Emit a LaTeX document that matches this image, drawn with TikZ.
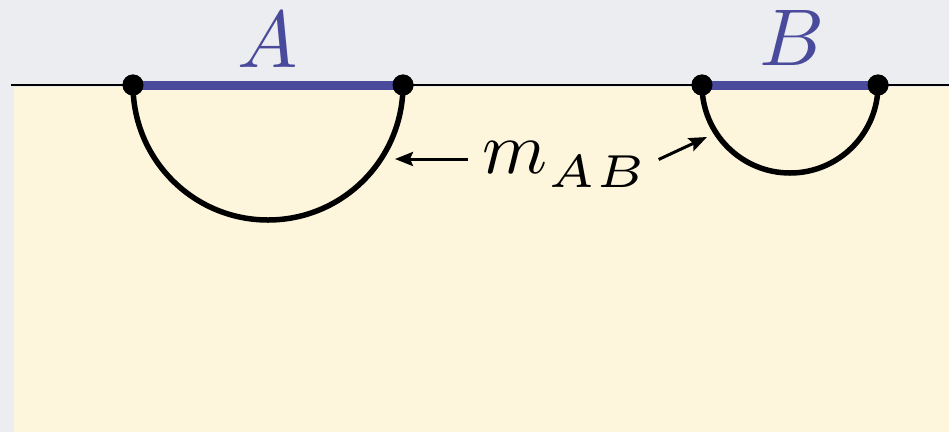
\documentclass[tikz,border=0pt]{standalone}
\usepackage{amsmath,amssymb}
\usepackage{graphicx}
\usepackage{tikz}
\usetikzlibrary{positioning,arrows.meta}
\usepackage{xcolor}
\definecolor{bandgray}{HTML}{ECEDF0}
\definecolor{sandfill}{HTML}{FDF6DC}
\definecolor{segblue}{HTML}{4A4A9C}

\begin{document}
\begin{tikzpicture}[x=1pt,y=-1pt,>={Stealth[length=18pt,width=14pt,inset=3pt]},
  dot/.style={circle,fill=black,inner sep=0pt,minimum size=21pt},
  seg/.style={segblue,line width=9pt},
  cup/.style={line width=5.5pt},
  pointer/.style={->,line width=3pt},
  letter/.style={text=segblue,inner sep=0pt,scale=8.05,transform shape}]
\useasboundingbox (0,0) rectangle (949,432);
\fill[bandgray] (0,0) rectangle (949,432);
\fill[sandfill] (14,87) rectangle (949,432);
\draw[line width=2.5pt] (11,85) -- (949,85);
% the two intervals
\node[dot] (a1) at (133,85) {};
\node[dot] (a2) at (403,85) {};
\node[dot] (b1) at (702,85) {};
\node[dot] (b2) at (878,85) {};
\draw[seg] (a1.center) -- (a2.center);
\draw[seg] (b1.center) -- (b2.center);
\draw[cup] (a1.center) arc[start angle=180,end angle=360,radius=135pt];
\draw[cup] (b1.center) arc[start angle=180,end angle=360,radius=88pt];
\node[dot] at (a1) {};
\node[dot] at (a2) {};
\node[dot] at (b1) {};
\node[dot] at (b2) {};
\node[letter,anchor=base] (labA) at (268,67) {$A$};
\node[letter,anchor=base] (labB) at (792,65) {$B$};
% the measure
\node[anchor=base west,inner sep=0pt,scale=7.4,transform shape] (mab) at (481,173)
  {$m_{\raisebox{-0.5pt}{\scalebox{1.25}{$\scriptscriptstyle AB$}}}$};
\coordinate (tipA) at (395,159);
\coordinate (tipB) at (707,137);
\draw[pointer] ([xshift=-13pt]mab.west |- tipA) -- (tipA);
\draw[pointer] ([xshift=8pt,yshift=5pt]mab.east) -- (tipB);
\end{tikzpicture}
\end{document}
